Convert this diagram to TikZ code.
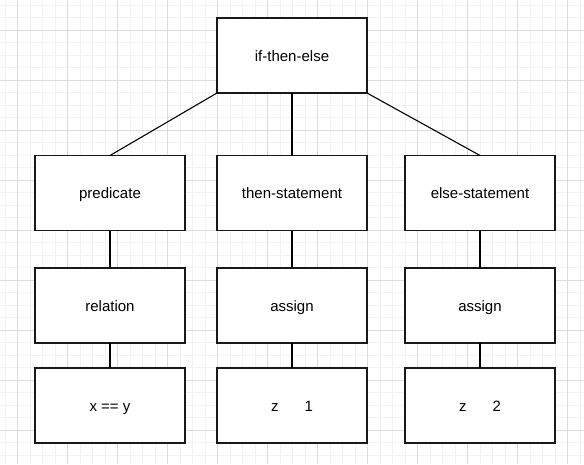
\documentclass[tikz,border=0pt]{standalone}
\usepackage{fontspec}
\setmainfont{Liberation Sans}
\begin{document}
\begin{tikzpicture}[x=1pt,y=-1pt,
  box/.style={draw=black!90,line width=1.1pt,fill=white,minimum width=150pt,minimum height=75pt,inner sep=0pt,outer sep=0pt,text height=12.5pt,text depth=1pt,font=\fontsize{15}{18}\selectfont},
  conn/.style={draw=black,line width=1.1pt},
  minorgrid/.style={draw={rgb,255:red,242;green,242;blue,242},line width=1pt},
  majorgrid/.style={draw={rgb,255:red,220;green,220;blue,220},line width=1pt}]
\useasboundingbox (0,0) rectangle (584,464);
\fill[white] (0,0) rectangle (584,464);
\foreach \i in {0,...,46} {
  \draw[minorgrid] ({5+12.5*\i},0) -- ({5+12.5*\i},464);
}
\foreach \i in {0,...,37} {
  \draw[minorgrid] (0,{5+12.5*\i}) -- (584,{5+12.5*\i});
}
\foreach \i in {0,...,11} {
  \draw[majorgrid] ({17.5+50*\i},0) -- ({17.5+50*\i},464);
}
\foreach \i in {0,...,9} {
  \draw[majorgrid] (0,{30+50*\i}) -- (584,{30+50*\i});
}
\node[box] (ite) at (292,55.5) {if-then-else};
\node[box] (pred) at (110,193) {predicate};
\node[box] (then) at (292,193) {then-statement};
\node[box] (else) at (480,193) {else-statement};
\node[box] (rel) at (110,305.5) {relation};
\node[box] (as1) at (292,305.5) {assign};
\node[box] (as2) at (480,305.5) {assign};
\node[box] (xy) at (110,405.5) {x == y};
\node[box] (z1) at (292,405.5) {z\hspace{26pt}1};
\node[box] (z2) at (480,405.5) {z\hspace{26pt}2};
\draw[conn] (ite.south west) -- (pred.north);
\draw[conn] (ite.south) -- (then.north);
\draw[conn] (ite.south east) -- (else.north);
\draw[conn] (pred) -- (rel);
\draw[conn] (then) -- (as1);
\draw[conn] (else) -- (as2);
\draw[conn] (rel) -- (xy);
\draw[conn] (as1) -- (z1);
\draw[conn] (as2) -- (z2);
\end{tikzpicture}
\end{document}
